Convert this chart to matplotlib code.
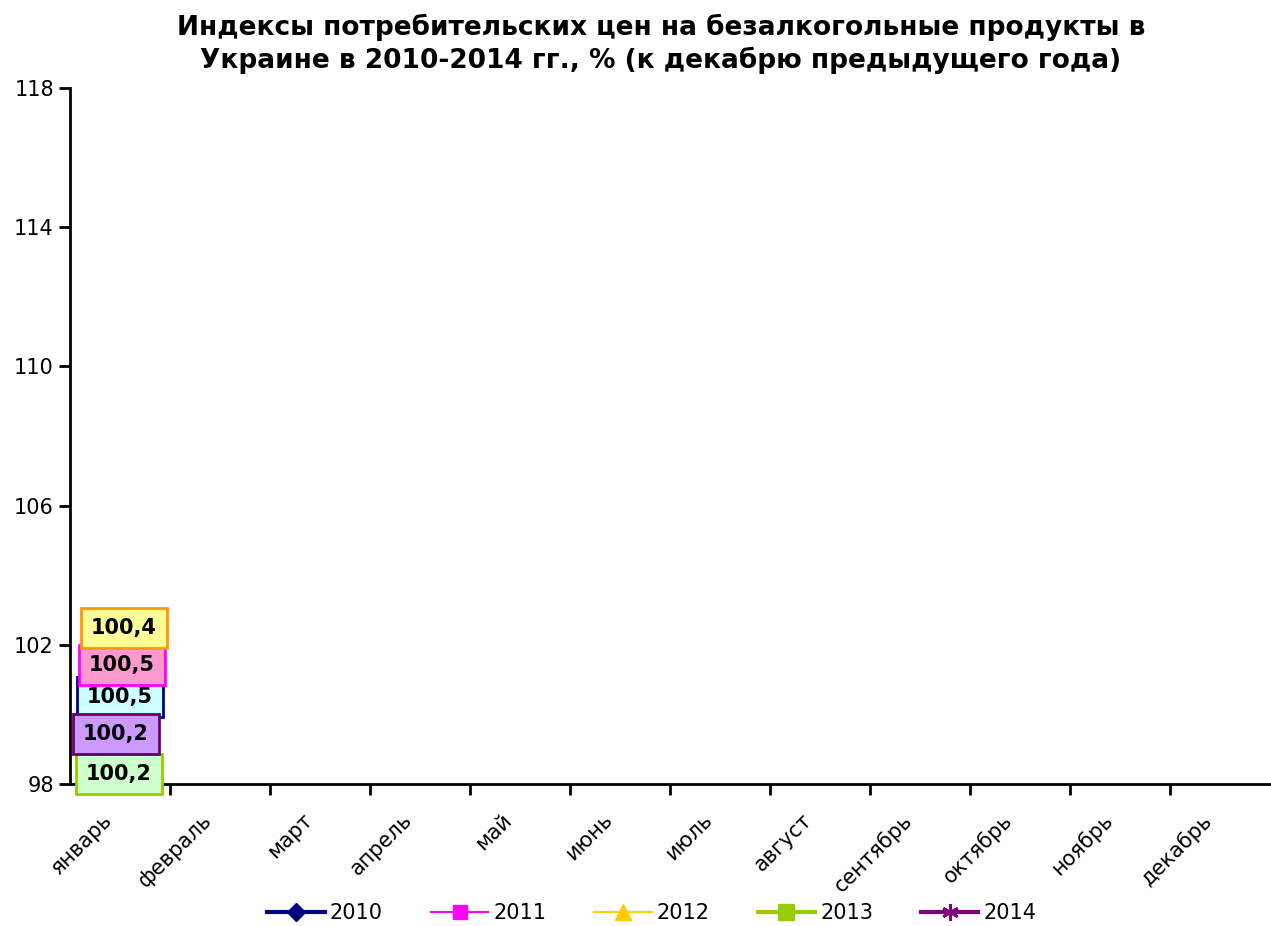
import matplotlib.pyplot as plt
import matplotlib.transforms as mtransforms

# Categories and values
months = ['январь', 'февраль', 'март', 'апрель', 'май', 'июнь', 'июль',
          'август', 'сентябрь', 'октябрь', 'ноябрь', 'декабрь']
years = ['2010', '2011', '2012', '2013', '2014']
jan_values = [100.5, 100.5, 100.4, 100.2, 100.2]
value_labels = ['100,5', '100,5', '100,4', '100,2', '100,2']

# styles
line_colors = ['#000080', '#FF00FF', '#FFCC00', '#99CC00', '#800080']
line_widths = [3, 1.5, 1.5, 3, 3]
markers = ['D', 's', '^', 's', (6, 2, 0)]
marker_sizes = [9, 10, 11, 12, 12]
box_faces = ['#CCFFFF', '#FF99CC', '#FFFF99', '#CCFFCC', '#CC99FF']
box_edges = ['#000080', '#FF00FF', '#FF9900', '#99CC00', '#660066']
label_offsets = [(0, 0), (2, 32), (4, 72), (-1, -67), (-4, -27)]  # pixels


def main():
    fig = plt.figure(figsize=(12.71, 9.26), dpi=100)
    ax = fig.add_axes([0.055, 0.1533, 0.944, 0.752])

    for i, yr in enumerate(years):
        ax.plot([0], [jan_values[i]], color=line_colors[i], lw=line_widths[i],
                marker=markers[i], ms=marker_sizes[i], mew=2 if i == 4 else 1,
                mec=line_colors[i], label=yr, zorder=2, clip_on=False)

    for i in range(len(years)):
        ax.annotate(value_labels[i], xy=(0, jan_values[i]), xytext=label_offsets[i],
                    textcoords='offset pixels', ha='center', va='center',
                    fontsize=15, fontweight='bold', zorder=5,
                    bbox=dict(boxstyle='square,pad=0.48', fc=box_faces[i],
                              ec=box_edges[i], lw=2))

    ax.set_xlim(-0.5, 11.5)
    ax.set_ylim(98, 118)
    ax.set_yticks(range(98, 119, 4))
    ax.tick_params(axis='y', labelsize=15, length=8, width=2, direction='out')

    ax.set_xticks(range(12))
    ax.set_xticklabels(months, rotation=45, ha='right', va='top',
                       rotation_mode='anchor', fontsize=15)
    ax.tick_params(axis='x', length=0, pad=14)
    ax.set_xticks([k + 0.5 for k in range(11)], minor=True)
    ax.tick_params(axis='x', which='minor', length=8, width=2, direction='out')
    shift = mtransforms.ScaledTranslation(-18 / 100, -6 / 100, fig.dpi_scale_trans)
    for lbl in ax.get_xticklabels():
        lbl.set_transform(lbl.get_transform() + shift)

    for s in ['top', 'right']:
        ax.spines[s].set_visible(False)
    for s in ['left', 'bottom']:
        ax.spines[s].set_linewidth(2)

    fig.suptitle('Индексы потребительских цен на безалкогольные продукты в\n'
                 'Украине в 2010-2014 гг., % (к декабрю предыдущего года)',
                 fontsize=19, fontweight='bold', x=0.52, y=0.985, va='top',
                 linespacing=1.25)

    fig.legend(loc='lower center', bbox_to_anchor=(0.513, -0.017), ncol=5,
               frameon=False, fontsize=15, handlelength=2.75, columnspacing=2.3,
               handletextpad=0.25)

    fig.savefig('out.png', dpi=100)
    plt.close(fig)


if __name__ == "__main__":
    main()
